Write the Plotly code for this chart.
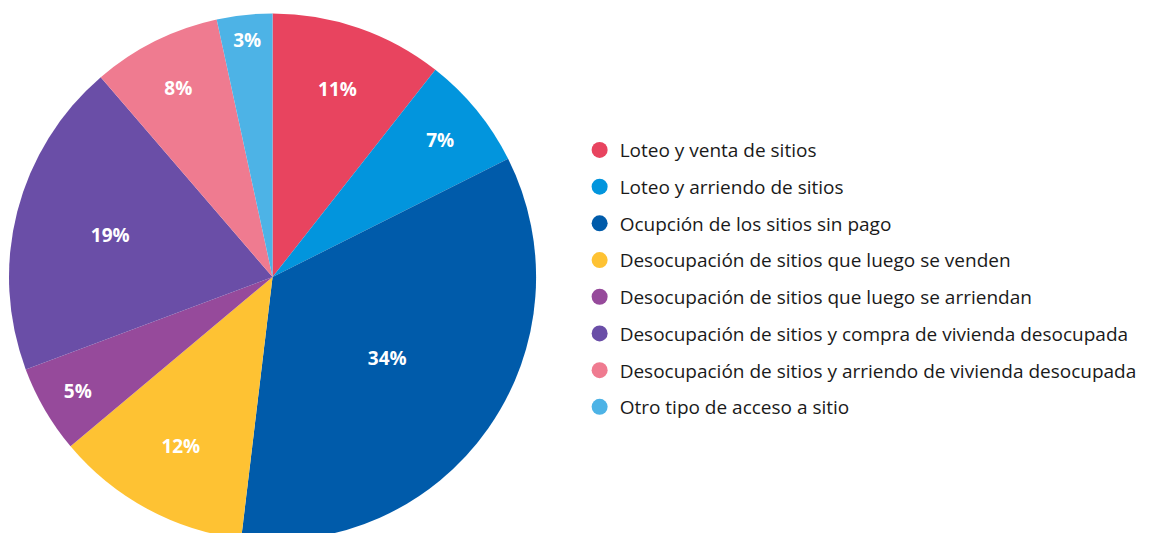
import plotly.graph_objects as go

labels = [
    "Loteo y venta de sitios",
    "Loteo y arriendo de sitios",
    "Ocupción de los sitios sin pago",
    "Desocupación de sitios que luego se venden",
    "Desocupación de sitios que luego se arriendan",
    "Desocupación de sitios y compra de vivienda desocupada",
    "Desocupación de sitios y arriendo de vivienda desocupada",
    "Otro tipo de acceso a sitio",
]
values = [10.6, 7.0, 34.3, 12.0, 5.4, 19.4, 7.9, 3.4]
colors = ["#E8445F", "#0295DD", "#005BAA", "#FEC233", "#964A9B",
          "#6A4EA7", "#EF7B90", "#4DB3E6"]

fig = go.Figure()

fig.add_trace(go.Pie(
    labels=labels, values=values, sort=False, direction="clockwise",
    marker=dict(colors=colors, line=dict(color="white", width=0)),
    texttemplate="%{percent:.0%}", textposition="inside",
    insidetextorientation="horizontal",
    textfont=dict(family="Open Sans", size=19, color="white", weight="bold"),
    showlegend=False, hoverinfo="label+percent",
    domain=dict(x=[0.0, 0.454], y=[0, 1]),
))

# legend entries with round markers
for i, (lab, col) in enumerate(zip(labels, colors)):
    fig.add_trace(go.Scatter(
        x=[None], y=[None], mode="markers", name=lab,
        legendgroup=str(i),
        marker=dict(symbol="circle", size=20, color=col),
    ))

fig.update_layout(
    width=1162, height=533,
    margin=dict(l=1, r=0, t=5, b=0),
    paper_bgcolor="white", plot_bgcolor="white",
    xaxis=dict(visible=False, domain=[0.5, 0.51]),
    yaxis=dict(visible=False),
    legend=dict(
        x=0.4915, y=0.497, xanchor="left", yanchor="middle",
        font=dict(family="Open Sans", size=19, color="#1a1a1a"),
        tracegroupgap=9, itemsizing="trace",
    ),
)

fig.write_html("out.html")
